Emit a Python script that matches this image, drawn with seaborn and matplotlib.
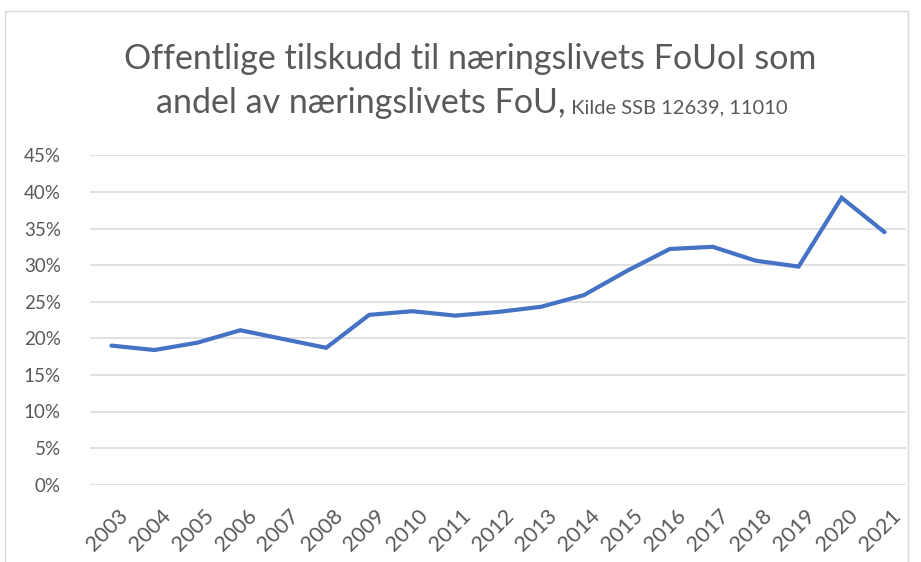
import matplotlib.pyplot as plt
import matplotlib.patches as mpatches
import matplotlib.transforms as mtransforms
from matplotlib.ticker import PercentFormatter
import pandas as pd
import seaborn as sns

# Data (share, 0-1)
years = list(range(2003, 2022))
andel = [0.190, 0.184, 0.194, 0.211, 0.199, 0.187, 0.232, 0.237, 0.231, 0.236,
         0.243, 0.259, 0.292, 0.322, 0.325, 0.306, 0.298, 0.392, 0.345]
y_ticks = [0.0, 0.05, 0.10, 0.15, 0.20, 0.25, 0.30, 0.35, 0.40, 0.45]

title_line1 = "Offentlige tilskudd til næringslivets FoUoI som"
title_line2 = "andel av næringslivets FoU,"
title_source = " Kilde SSB 12639, 11010"

df = pd.DataFrame({"year": years, "andel": andel})

sns.set_style("white")
plt.rcParams['font.family'] = ['Lato', 'DejaVu Sans']

text_col = '#595959'
fig = plt.figure(figsize=(9.21, 5.62), dpi=100)
ax = fig.add_axes([90 / 921, 1 - 484.7 / 562, 816 / 921, 329.4 / 562])

sns.lineplot(data=df, x="year", y="andel", color='#4472C4', linewidth=3.0, ax=ax,
             solid_capstyle='round', solid_joinstyle='miter')

ax.set_xlim(2002.5, 2021.5)
ax.set_ylim(0, 0.45)
ax.set_yticks(y_ticks)
ax.set_xticks(years)
ax.yaxis.set_major_formatter(PercentFormatter(1.0, decimals=0))
ax.grid(axis='y', color='#D9D9D9', linewidth=1.1)
ax.set_axisbelow(True)
for s in ax.spines.values():
    s.set_visible(False)
ax.set_xlabel('')
ax.set_ylabel('')
ax.tick_params(axis='y', length=0, pad=21, labelsize=13.5, labelcolor=text_col)
ax.tick_params(axis='x', length=0, pad=15, labelsize=15.5, labelcolor=text_col)
shift = mtransforms.ScaledTranslation(6 / 100, 0, fig.dpi_scale_trans)
for lab in ax.get_xticklabels():
    lab.set_rotation(45)
    lab.set_ha('right')
    lab.set_rotation_mode('anchor')
    lab.set_transform(lab.get_transform() + shift)

# outer chart border
fig.patches.append(mpatches.Rectangle((5 / 921, -0.01), 903 / 921, 1.01 - 11 / 562,
                                      transform=fig.transFigure, fill=False,
                                      edgecolor='#D9D9D9', linewidth=1))

# title
fig.text(470 / 921, 1 - 69 / 562, title_line1, ha='center', va='baseline',
         fontsize=24.5, color=text_col)
renderer = fig.canvas.get_renderer()
t1 = fig.text(0, 1 - 113 / 562, title_line2, ha='left', va='baseline',
              fontsize=24.5, color=text_col)
t2 = fig.text(0, 1 - 113 / 562, title_source, ha='left', va='baseline',
              fontsize=14.5, color=text_col)
w1 = t1.get_window_extent(renderer).width / fig.bbox.width
w2 = t2.get_window_extent(renderer).width / fig.bbox.width
x0 = 472 / 921 - (w1 + w2) / 2
t1.set_x(x0)
t2.set_x(x0 + w1)

fig.savefig('out.png', dpi=100)
